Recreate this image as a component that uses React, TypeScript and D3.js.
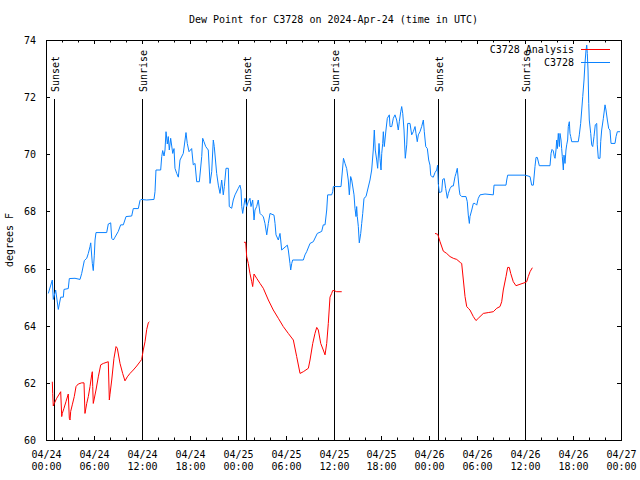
import React from "react";
import * as d3 from "d3";

const TITLE = "Dew Point for C3728 on 2024-Apr-24 (time in UTC)";
const Y_LABEL = "degrees F";
const SERIES_NAMES = ["C3728 Analysis", "C3728"];
const Y_TICKS = [60, 62, 64, 66, 68, 70, 72, 74];

// hours since 2024-04-24 00:00 UTC
const SUNSET_HOURS = [1.0, 25.05, 49.1];
const SUNRISE_HOURS = [12.06, 36.0, 60.0];

const stationHours = [
  0.29, 0.79, 0.91, 1.21, 1.54, 1.84, 2.17, 2.25, 2.79, 2.92, 3.63, 4.26, 4.47, 4.8, 5.1, 5.3, 5.51, 5.6, 5.8, 5.92,
  6.05, 6.14, 6.26, 7.6, 7.8, 8.1, 8.23, 8.43, 8.64, 9.05, 9.35, 9.68, 10.02, 10.73, 10.93, 11.56, 11.77, 11.9, 12.61, 13.52,
  13.65, 13.77, 14.36, 14.49, 14.61, 14.78, 14.9, 15.03, 15.19, 15.31, 15.44, 15.61, 15.87, 16.03, 16.15, 16.37, 16.57, 16.78, 17.19, 17.41,
  17.53, 17.69, 17.91, 18.24, 18.44, 18.66, 18.87, 19.2, 19.5, 19.62, 19.78, 20.0, 20.32, 20.54, 20.75, 20.95, 21.07, 21.37, 21.58, 21.79,
  22.0, 22.2, 22.33, 22.54, 22.83, 22.95, 23.25, 23.45, 23.67, 24.08, 24.29, 24.42, 24.51, 24.63, 24.79, 24.92, 25.13, 25.33, 25.54, 25.67,
  25.88, 26.05, 26.17, 26.38, 26.58, 26.8, 27.01, 27.21, 27.42, 27.64, 27.84, 28.05, 28.55, 28.68, 28.8, 29.09, 29.3, 29.39, 29.51, 30.22,
  30.34, 30.55, 30.64, 30.77, 30.89, 32.22, 32.43, 32.64, 33.06, 33.47, 33.97, 34.52, 34.72, 34.94, 35.15, 35.27, 35.77, 35.9, 35.98, 36.94,
  37.25, 37.44, 37.65, 37.85, 37.98, 38.15, 38.28, 38.57, 38.69, 38.82, 38.9, 38.98, 39.11, 39.23, 39.41, 39.53, 39.66, 39.82, 40.07, 40.57,
  40.78, 40.98, 41.11, 41.23, 41.41, 41.53, 41.7, 41.82, 41.95, 42.04, 42.16, 42.24, 42.36, 42.57, 42.74, 42.99, 43.08, 43.29, 43.49, 43.7,
  43.91, 44.11, 44.24, 44.42, 44.54, 44.67, 44.83, 44.99, 45.17, 45.29, 45.58, 45.79, 45.99, 46.21, 46.33, 46.49, 46.62, 46.83, 47.04, 47.25,
  47.37, 47.55, 47.75, 47.92, 48.08, 48.17, 48.3, 48.5, 48.71, 48.92, 49.04, 49.12, 49.25, 49.55, 49.67, 49.87, 50.05, 50.25, 50.38, 50.59,
  50.8, 51.0, 51.22, 51.34, 51.5, 51.63, 51.75, 51.84, 52.05, 52.59, 52.75, 52.88, 53.01, 53.09, 53.31, 53.51, 53.72, 53.93, 54.13, 54.35,
  54.97, 56.01, 56.1, 57.6, 57.69, 57.81, 59.98, 60.61, 60.82, 61.02, 61.23, 61.36, 61.52, 61.77, 63.11, 63.24, 63.36, 63.52, 63.65, 63.74,
  63.86, 63.95, 64.03, 64.15, 64.28, 64.36, 64.49, 64.57, 64.65, 64.78, 64.86, 64.99, 65.11, 65.2, 65.32, 65.4, 65.53, 65.61, 65.7, 65.83,
  66.65, 66.78, 66.95, 67.08, 67.21, 67.37, 67.49, 67.62, 67.71, 67.78, 67.87, 67.96, 68.03, 68.21, 68.33, 68.46, 68.62, 68.78, 68.96, 69.03,
  69.16, 69.37, 69.46, 69.58, 69.79, 70.0, 70.12, 70.29, 70.46, 70.62, 70.75, 71.25, 71.38, 71.54, 71.88,
];
const stationDew = [
  65.13, 65.6, 64.92, 65.25, 64.57, 65.0, 65.0, 65.27, 65.3, 65.65, 65.66, 65.62, 65.83, 66.28, 66.36, 66.53, 66.77, 66.9, 66.18, 65.93,
  66.47, 67.0, 67.26, 67.26, 67.56, 67.6, 67.06, 67.0, 67.1, 67.3, 67.53, 67.53, 67.82, 67.84, 68.1, 68.1, 68.38, 68.42, 68.4, 68.42,
  68.69, 69.45, 69.45, 69.92, 70.13, 69.94, 70.15, 70.79, 70.36, 70.62, 70.15, 70.56, 70.03, 70.2, 69.51, 69.33, 69.2, 69.8, 70.03, 70.5,
  70.76, 70.38, 70.09, 70.2, 69.63, 69.68, 69.04, 69.04, 69.92, 70.56, 70.44, 70.27, 70.15, 68.98, 69.39, 70.5, 70.27, 69.33, 68.92, 68.63,
  69.1, 68.58, 68.87, 69.51, 69.51, 68.17, 68.11, 68.4, 68.58, 68.81, 68.92, 68.75, 68.17, 67.93, 68.22, 68.46, 68.17, 68.34, 68.46, 68.17,
  68.4, 67.7, 68.05, 68.17, 68.4, 67.93, 67.87, 67.82, 67.58, 67.18, 67.58, 67.93, 67.87, 67.58, 67.18, 67.0, 67.23, 67.0, 66.65, 66.82,
  66.65, 66.18, 65.95, 66.18, 66.3, 66.3, 66.48, 66.59, 66.88, 66.94, 67.23, 67.3, 67.53, 67.53, 68.05, 68.58, 68.58, 68.69, 68.87, 68.87,
  69.86, 69.68, 69.5, 69.1, 68.58, 69.22, 69.1, 68.58, 68.11, 67.82, 68.17, 67.82, 67.47, 66.9, 67.23, 67.58, 67.93, 68.46, 68.52, 69.1,
  69.45, 70.15, 70.85, 70.15, 69.8, 69.51, 70.38, 69.86, 69.45, 70.03, 70.38, 70.79, 70.27, 70.85, 71.26, 71.38, 70.97, 70.97, 71.26, 71.38,
  71.2, 70.85, 71.14, 71.49, 71.67, 71.43, 70.85, 69.86, 70.33, 71.08, 71.08, 70.68, 70.79, 70.97, 70.73, 70.44, 70.68, 70.79, 70.97, 71.2,
  70.79, 70.27, 70.2, 69.8, 69.62, 69.27, 69.22, 69.2, 69.36, 69.45, 69.62, 68.98, 68.66, 68.69, 69.12, 69.15, 68.8, 68.46, 68.63, 68.8,
  68.89, 68.89, 69.22, 69.33, 69.51, 69.1, 68.75, 68.58, 68.52, 68.52, 68.34, 67.87, 67.58, 67.82, 68.05, 68.28, 68.28, 68.22, 68.46, 68.58,
  68.61, 68.58, 68.92, 68.92, 69.1, 69.27, 69.27, 69.22, 68.92, 68.92, 69.57, 69.89, 69.89, 69.6, 69.6, 70.03, 70.17, 70.12, 69.92, 69.86,
  70.15, 70.5, 70.2, 70.73, 70.27, 70.73, 70.5, 70.2, 69.92, 69.45, 69.97, 69.68, 70.15, 70.33, 70.5, 70.97, 71.14, 70.73, 70.62, 70.44,
  70.44, 70.68, 71.08, 71.55, 72.02, 72.6, 73.18, 73.65, 73.82, 73.53, 72.95, 71.78, 71.2, 70.73, 70.33, 70.27, 70.62, 71.03, 71.08, 70.33,
  69.86, 69.86, 70.44, 70.85, 71.26, 71.73, 71.55, 71.2, 70.9, 70.85, 70.38, 70.38, 70.62, 70.79, 70.79,
];

// null marks a gap between analysis runs
const analysisHours = [
  0.79, 0.84, 0.91, 1.04, 1.34, 1.67, 1.84, 1.97, 2.04, 2.25, 2.5, 2.79, 2.92, 3.01, 3.09, 3.29, 3.54, 3.76, 4.04, 4.47,
  4.76, 4.88, 5.1, 5.3, 5.51, 5.72, 5.8, 5.85, 5.92, 6.01, 6.26, 6.55, 6.85, 7.18, 7.8, 7.93, 8.01, 8.23, 8.51, 8.77,
  8.93, 9.27, 9.6, 9.89, 10.18, 10.52, 10.93, 11.36, 11.77, 11.98, 12.18, 12.4, 12.61, 12.81, 12.94,
  null,
  24.79, 25.01, 25.13, 25.33, 25.54, 25.76, 25.88, 26.05, 26.38, 26.8, 27.21, 27.84, 28.46, 29.09, 29.71, 30.34, 30.97, 31.39, 31.81, 32.22,
  32.85, 33.06, 33.4, 33.68, 33.9, 34.1, 34.4, 34.72, 34.94, 35.15, 35.35, 35.56, 35.77, 35.9, 36.06, 36.4, 37.03,
  null,
  48.71, 49.05, 49.34, 49.75, 50.17, 50.59, 51.0, 51.43, 51.93, 52.05, 52.26, 52.47, 52.68, 52.88, 53.09, 53.51, 53.84, 54.13, 54.76, 55.38,
  56.01, 56.44, 56.85, 57.06, 57.26, 57.6, 57.81, 58.01, 58.19, 58.51, 58.85, 59.35, 59.98, 60.19, 60.39, 60.61, 60.9,
];
const analysisDew = [
  62.04, 61.63, 61.19, 61.28, 61.46, 61.61, 61.69, 60.82, 60.93, 61.11, 61.34, 61.61, 60.76, 60.7, 61.0, 61.23, 61.52, 61.87, 61.96, 62.0,
  62.0, 60.93, 61.28, 61.52, 61.87, 62.28, 62.39, 61.87, 61.28, 61.4, 61.75, 62.21, 62.63, 62.68, 62.74, 61.4, 61.6, 62.1, 62.86, 63.27,
  63.21, 62.68, 62.33, 62.07, 62.21, 62.33, 62.45, 62.59, 62.74, 62.82, 63.15, 63.44, 63.87, 64.1, 64.14,
  null,
  66.92, 66.92, 66.42, 66.18, 65.83, 65.54, 65.37, 65.81, 65.66, 65.48, 65.31, 64.9, 64.55, 64.26, 63.97, 63.73, 63.5, 62.92, 62.33, 62.39,
  62.51, 62.8, 63.38, 63.73, 63.94, 63.85, 63.38, 63.15, 62.98, 63.38, 64.08, 65.0, 65.13, 65.23, 65.23, 65.19, 65.19,
  null,
  67.23, 67.2, 66.94, 66.61, 66.53, 66.42, 66.36, 66.32, 66.2, 66.18, 65.6, 65.02, 64.67, 64.61, 64.55, 64.32, 64.18, 64.26, 64.43, 64.46,
  64.49, 64.61, 64.67, 64.84, 65.25, 65.72, 66.04, 66.04, 65.83, 65.54, 65.4, 65.45, 65.51, 65.54, 65.72, 65.89, 66.03,
];

const T0 = Date.UTC(2024, 3, 24);
const toDate = (h: number) => new Date(T0 + h * 3600000);

const W = 640;
const H = 480;
const L = 46;
const R = 621;
const TOP = 40;
const BOT = 440;
const FONT = "'DejaVu Sans Mono', 'Liberation Mono', monospace";
const RED = "#ff0000";
const BLUE = "#0a82ff";

export default function App() {
  const x = d3.scaleUtc().domain([toDate(0), toDate(72)]).range([L, R]);
  const y = d3.scaleLinear().domain([60, 74]).range([BOT, TOP]);
  const px = (h: number) => Math.round(x(toDate(h))) + 0.5;

  const majorTicks = x.ticks(d3.utcHour.every(6)!);
  const minorTicks = x.ticks(d3.utcHour.every(2)!);
  const fmtDay = d3.utcFormat("%m/%d");
  const fmtTime = d3.utcFormat("%H:%M");

  const station = stationHours.map((h, i) => ({ t: toDate(h), v: stationDew[i] }));
  const analysis = analysisHours.map((h, i) => ({ t: h == null ? null : toDate(h), v: analysisDew[i] }));

  const line = d3
    .line<{ t: Date | null; v: number | null }>()
    .defined((d) => d.t != null && d.v != null)
    .x((d) => x(d.t as Date))
    .y((d) => y(d.v as number));

  const sunLines = [
    ...SUNSET_HOURS.map((h) => ({ h, label: "Sunset" })),
    ...SUNRISE_HOURS.map((h) => ({ h, label: "Sunrise" })),
  ];

  return (
    <svg
      width={W}
      height={H}
      style={{ position: "absolute", left: 0, top: 0, background: "#fff" }}
      fontFamily={FONT}
      fontSize={10}
    >
      <rect x={0} y={0} width={W} height={H} fill="#fff" />
      <text x={(L + R) / 2} y={23} textAnchor="middle" fill="#000">
        {TITLE}
      </text>
      <text
        transform={`translate(13,${(TOP + BOT) / 2}) rotate(-90)`}
        textAnchor="middle"
        fill="#000"
      >
        {Y_LABEL}
      </text>

      {/* y ticks */}
      {Y_TICKS.map((v) => {
        const yy = Math.round(y(v)) + 0.5;
        return (
          <g key={v}>
            <line x1={L} x2={L + 4} y1={yy} y2={yy} stroke="#000" />
            <line x1={R - 4} x2={R} y1={yy} y2={yy} stroke="#000" />
            <text x={36} y={yy + 3.5} textAnchor="end" fill="#000">
              {v}
            </text>
          </g>
        );
      })}

      {/* x ticks */}
      {minorTicks.map((d, i) => {
        const xx = Math.round(x(d)) + 0.5;
        return (
          <g key={"m" + i}>
            <line x1={xx} x2={xx} y1={BOT} y2={BOT - 2.5} stroke="#000" />
            <line x1={xx} x2={xx} y1={TOP} y2={TOP + 2.5} stroke="#000" />
          </g>
        );
      })}
      {majorTicks.map((d, i) => {
        const xx = Math.round(x(d)) + 0.5;
        return (
          <g key={"M" + i}>
            <line x1={xx} x2={xx} y1={BOT} y2={BOT - 4} stroke="#000" />
            <line x1={xx} x2={xx} y1={TOP} y2={TOP + 4} stroke="#000" />
            <text x={xx} y={457.5} textAnchor="middle" fill="#000">
              {fmtDay(d)}
            </text>
            <text x={xx} y={469.5} textAnchor="middle" fill="#000">
              {fmtTime(d)}
            </text>
          </g>
        );
      })}

      {/* sunrise / sunset markers */}
      {sunLines.map((s, i) => {
        const xx = px(s.h);
        return (
          <g key={"s" + i}>
            <line x1={xx} x2={xx} y1={99} y2={BOT} stroke="#000" />
            <text
              transform={`translate(${xx + 4},92) rotate(-90)`}
              textAnchor="start"
              fill="#000"
            >
              {s.label}
            </text>
          </g>
        );
      })}

      {/* data */}
      <path d={line(station as any) || ""} fill="none" stroke={BLUE} strokeWidth={1} />
      <path d={line(analysis as any) || ""} fill="none" stroke={RED} strokeWidth={1} />

      {/* legend */}
      <text x={574} y={53} textAnchor="end" fill="#000">
        {SERIES_NAMES[0]}
      </text>
      <line x1={581} x2={610} y1={49.5} y2={49.5} stroke={RED} />
      <text x={574} y={66} textAnchor="end" fill="#000">
        {SERIES_NAMES[1]}
      </text>
      <line x1={581} x2={610} y1={62.5} y2={62.5} stroke={BLUE} />

      {/* border */}
      <rect x={L + 0.5} y={TOP + 0.5} width={R - L} height={BOT - TOP} fill="none" stroke="#000" />
    </svg>
  );
}
